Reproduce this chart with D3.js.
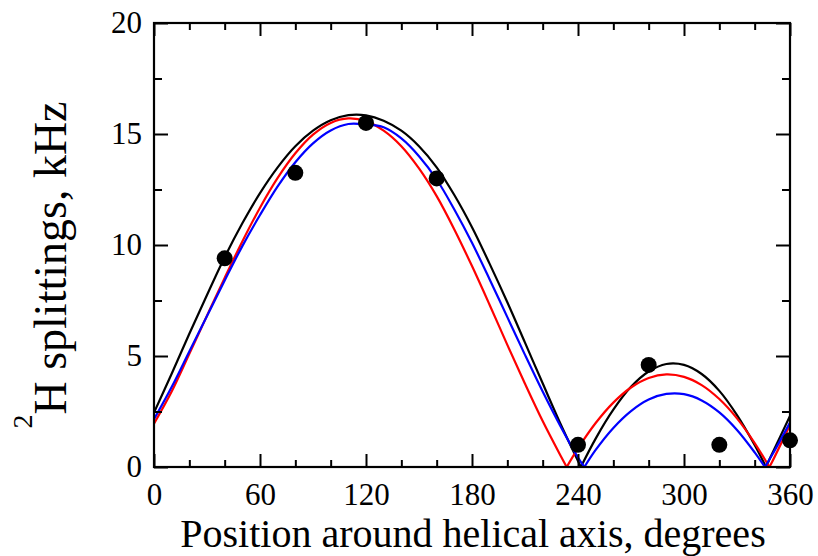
<!DOCTYPE html>
<html>
<head>
<meta charset="utf-8">
<script src="https://cdn.jsdelivr.net/npm/d3@7"></script>
<style>
  body { margin: 0; background: #fff; }
  text { font-family: "Liberation Serif", "Times New Roman", serif; }
</style>
</head>
<body>
<div id="chart"></div>
<script>
// measured splittings (position in degrees, kHz)
var pointAngles = [40, 80, 120, 160, 240, 280, 320, 360];
var pointValues = [9.4, 13.25, 15.5, 13.0, 1.0, 4.6, 1.0, 1.2];

// fitted curves, [angle, splitting]
var blackFit = [[0,2.45],[10,4.2],[20,6.0],[30,7.75],[40,9.45],[50,10.98],[60,12.34],[70,13.5],[80,14.45],[90,15.15],[100,15.62],[110,15.85],[120,15.84],[130,15.6],[140,15.15],[150,14.45],[160,13.5],[170,12.25],[180,10.8],[190,9.15],[200,7.42],[210,5.6],[220,3.77],[230,1.96],[240,0.27],[241.6,0],[250,1.28],[260,2.58],[270,3.61],[280,4.3],[290,4.64],[300,4.6],[310,4.19],[320,3.43],[330,2.34],[340,0.99],[346.4,0],[350,0.62],[360,2.3]];
var redFit = [[0,1.95],[10,3.4],[20,5.1],[30,6.82],[40,8.52],[50,10.16],[60,11.68],[70,13.02],[80,14.13],[90,14.97],[100,15.5],[110,15.7],[120,15.58],[130,15.15],[140,14.45],[150,13.45],[160,12.2],[170,10.7],[180,9.05],[190,7.3],[200,5.5],[210,3.75],[220,2.07],[230,0.53],[233.6,0],[240,0.84],[250,1.98],[260,2.9],[270,3.58],[280,4.01],[290,4.17],[300,4.06],[310,3.69],[320,3.06],[330,2.19],[340,1.08],[348.3,0],[350,0.25],[360,1.9]];
var blueFit = [[0,2.15],[10,3.6],[20,5.2],[30,6.8],[40,8.4],[50,9.95],[60,11.35],[70,12.64],[80,13.73],[90,14.58],[100,15.16],[110,15.45],[120,15.43],[130,15.3],[140,14.8],[150,14.0],[160,12.95],[170,11.6],[180,10.1],[190,8.45],[200,6.75],[210,5.05],[220,3.4],[230,1.85],[240,0.43],[243.6,0],[250,0.77],[260,1.76],[270,2.52],[280,3.04],[290,3.29],[300,3.28],[310,3.0],[320,2.46],[330,1.67],[340,0.66],[345.8,0],[350,0.56],[360,2.0]];

var xMajor = [0, 60, 120, 180, 240, 300, 360];
var xMinor = [20, 40, 80, 100, 140, 160, 200, 220, 260, 280, 320, 340];
var yMajor = [0, 5, 10, 15, 20];
var yMinor = [2.5, 7.5, 12.5, 17.5];

var W = 818, H = 556;
var box = {left: 154, right: 790, top: 23, bottom: 467};

var svg = d3.select("#chart").append("svg")
    .attr("width", W)
    .attr("height", H);

var x = d3.scaleLinear().domain([0, 360]).range([box.left, box.right]);
var y = d3.scaleLinear().domain([0, 20]).range([box.bottom, box.top]);

svg.append("clipPath").attr("id", "plotclip")
  .append("rect")
    .attr("x", box.left).attr("y", box.top)
    .attr("width", box.right - box.left).attr("height", box.bottom - box.top);

// curves, split at the zero cusps so each piece is smooth
function pieces(pts) {
  var out = [], cur = [];
  pts.forEach(function(p, i) {
    cur.push(p);
    if (p[1] === 0 && i > 0 && i < pts.length - 1) {
      out.push(cur);
      cur = [p];
    }
  });
  out.push(cur);
  return out;
}

var line = d3.line()
    .x(function(d) { return x(d[0]); })
    .y(function(d) { return y(d[1]); })
    .curve(d3.curveCatmullRom.alpha(0.5));

var curves = svg.append("g").attr("clip-path", "url(#plotclip)");
[[blackFit, "#000000"], [redFit, "#ff0000"], [blueFit, "#0000ff"]].forEach(function(c) {
  curves.selectAll(null)
    .data(pieces(c[0]))
    .enter()
    .append("path")
      .attr("d", line)
      .attr("fill", "none")
      .attr("stroke", c[1])
      .attr("stroke-width", 2.2);
});

// axes, ticks pointing inward on all four sides
function styleAxis(g) {
  g.select(".domain").remove();
  g.selectAll(".tick line").attr("stroke", "#000").attr("stroke-width", 2);
  g.selectAll(".tick text")
    .attr("fill", "#000")
    .style("font-size", "31px")
    .style("font-family", "Liberation Serif");
}

svg.append("g")
  .attr("transform", "translate(0," + box.bottom + ")")
  .call(d3.axisBottom(x).tickValues(xMajor).tickSize(-13).tickPadding(16).tickFormat(d3.format("d")))
  .call(styleAxis);
svg.append("g")
  .attr("transform", "translate(0," + box.bottom + ")")
  .call(d3.axisBottom(x).tickValues(xMinor).tickSize(-7).tickFormat(""))
  .call(styleAxis);
svg.append("g")
  .attr("transform", "translate(0," + box.top + ")")
  .call(d3.axisTop(x).tickValues(xMajor).tickSize(-13).tickFormat(""))
  .call(styleAxis);
svg.append("g")
  .attr("transform", "translate(0," + box.top + ")")
  .call(d3.axisTop(x).tickValues(xMinor).tickSize(-7).tickFormat(""))
  .call(styleAxis);

svg.append("g")
  .attr("transform", "translate(" + box.left + ",0)")
  .call(d3.axisLeft(y).tickValues(yMajor).tickSize(-14).tickPadding(12).tickFormat(d3.format("d")))
  .call(styleAxis);
svg.append("g")
  .attr("transform", "translate(" + box.left + ",0)")
  .call(d3.axisLeft(y).tickValues(yMinor).tickSize(-8).tickFormat(""))
  .call(styleAxis);
svg.append("g")
  .attr("transform", "translate(" + box.right + ",0)")
  .call(d3.axisRight(y).tickValues(yMajor).tickSize(-14).tickFormat(""))
  .call(styleAxis);
svg.append("g")
  .attr("transform", "translate(" + box.right + ",0)")
  .call(d3.axisRight(y).tickValues(yMinor).tickSize(-8).tickFormat(""))
  .call(styleAxis);

// frame
svg.append("rect")
  .attr("x", box.left).attr("y", box.top)
  .attr("width", box.right - box.left).attr("height", box.bottom - box.top)
  .attr("fill", "none")
  .attr("stroke", "#000")
  .attr("stroke-width", 2.2);

// data points
svg.selectAll(".pt")
  .data(pointAngles)
  .enter()
  .append("circle")
    .attr("class", "pt")
    .attr("cx", function(d) { return x(d); })
    .attr("cy", function(d, i) { return y(pointValues[i]); })
    .attr("r", 8)
    .attr("fill", "#000");

// axis titles
svg.append("text")
  .attr("x", (box.left + box.right) / 2 + 1)
  .attr("y", 547)
  .attr("text-anchor", "middle")
  .style("font-size", "40px")
  .text("Position around helical axis, degrees");

var yt = svg.append("text")
  .attr("transform", "translate(66,265) rotate(-90)")
  .attr("text-anchor", "middle")
  .style("font-size", "46px");
yt.append("tspan").attr("dy", -34).style("font-size", "28px").text("2");
yt.append("tspan").attr("dy", 34).text("H splittings, kHz");
</script>
</body>
</html>
